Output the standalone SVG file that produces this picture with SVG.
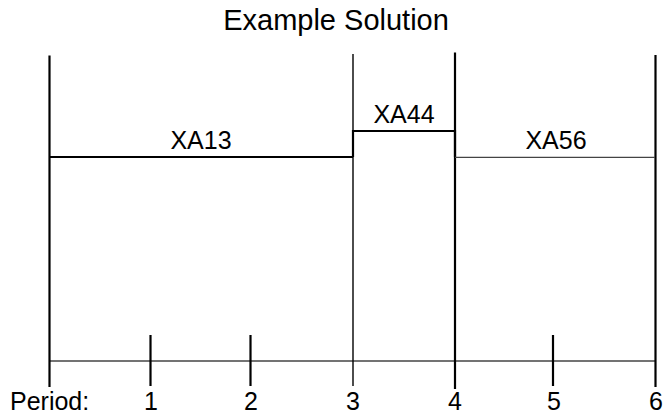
<svg xmlns="http://www.w3.org/2000/svg" width="663" height="413" viewBox="0 0 663 413">
<style>
text{font-family:"Liberation Sans",Arial,sans-serif;fill:#000}
.t{font-size:29px;text-anchor:middle}
.l{font-size:25px;text-anchor:middle}
.k{stroke:#000;stroke-width:2.2;fill:none}
.m{stroke:#000;stroke-width:1.4;fill:none}
.n{stroke:#444;stroke-width:1.3;fill:none}
</style>
<rect width="663" height="413" fill="#fff"/>
<text class="t" x="336" y="30">Example Solution</text>
<g id="axis">
<line class="n" x1="50" y1="361" x2="655" y2="361"/>
<line class="k" x1="150.5" y1="335" x2="150.5" y2="386"/>
<line class="k" x1="250.5" y1="335" x2="250.5" y2="386"/>
<line class="k" x1="553" y1="335" x2="553" y2="386"/>
</g>
<g id="boundaries">
<line class="k" x1="49.5" y1="55.5" x2="49.5" y2="387"/>
<line class="m" x1="353" y1="54" x2="353" y2="386"/>
<line class="k" x1="455" y1="52.5" x2="455" y2="389"/>
<line class="k" x1="655.5" y1="55" x2="655.5" y2="387"/>
</g>
<g id="XA13">
<line class="k" x1="50" y1="157" x2="353" y2="157"/>
<text class="l" x="201" y="149">XA13</text>
</g>
<g id="XA44">
<polyline class="k" points="353,157 353,131 455,131 455,157"/>
<text class="l" x="404" y="123">XA44</text>
</g>
<g id="XA56">
<line class="n" x1="455" y1="157.3" x2="655" y2="157.3"/>
<text class="l" x="556" y="149">XA56</text>
</g>
<g id="labels">
<text class="l" x="10" y="410" style="text-anchor:start">Period:</text>
<text class="l" x="151" y="410">1</text>
<text class="l" x="251" y="410">2</text>
<text class="l" x="353" y="410">3</text>
<text class="l" x="455" y="410">4</text>
<text class="l" x="554" y="410">5</text>
<text class="l" x="656" y="410">6</text>
</g>
</svg>
